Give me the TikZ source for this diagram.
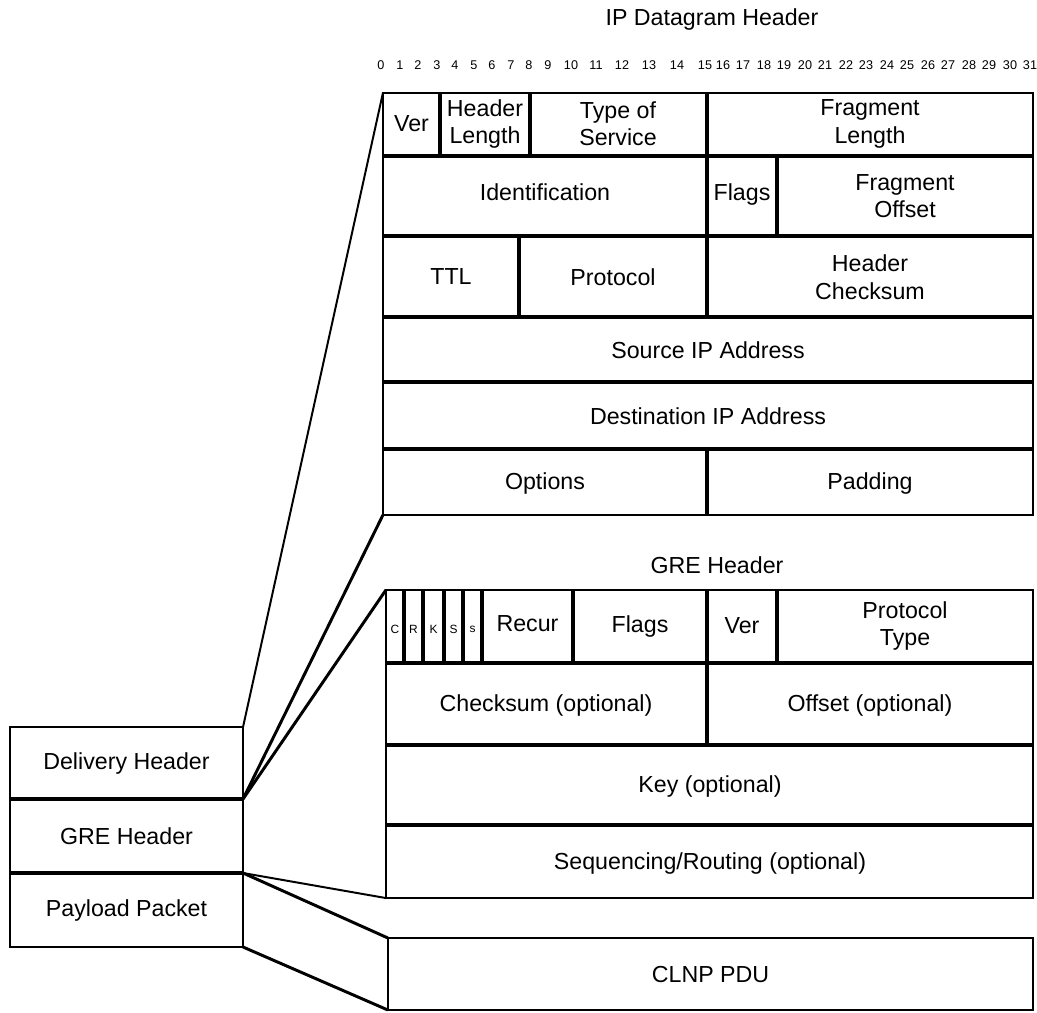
\documentclass[tikz,border=0pt]{standalone}
\usepackage{fontspec}
\setmainfont{Liberation Sans}
\begin{document}
\begin{tikzpicture}[x=0.025cm,y=-0.025cm,
    outline/.style={line width=1.4pt},
    divider/.style={line width=2.8pt},
    link/.style={line width=2.1pt},
    box/.style={draw,outline,outer sep=0pt,inner sep=0pt},
    field/.style={align=center,font=\fontsize{16.5}{19.5}\selectfont},
    bitno/.style={font=\fontsize{9}{10}\selectfont},
    flagbit/.style={font=\fontsize{8.5}{9}\selectfont}]

  \useasboundingbox (0,0) rectangle (1037,1012);

  % Encapsulated packet on the left
  \node[box,field,minimum width=5.825cm,minimum height=1.8cm] (deliv) at (126.5,763) {Delivery Header};
  \node[box,field,minimum width=5.825cm,minimum height=1.85cm] (greh) at (126.5,836) {GRE Header};
  \node[box,field,minimum width=5.825cm,minimum height=1.85cm] (payload) at (126.5,910) {Payload Packet};
  \draw[divider] (deliv.south west) -- (deliv.south east);
  \draw[divider] (greh.south west) -- (greh.south east);

  % The three expanded boxes
  \node[box,minimum width=16.25cm,minimum height=10.55cm] (ip) at (708,304) {};
  \node[box,minimum width=16.175cm,minimum height=7.7cm] (gre) at (709.5,744) {};
  \node[box,field,minimum width=16.125cm,minimum height=1.8cm] (clnp) at (710.5,974) {CLNP PDU};

  % Zoom lines
  \draw[outline] (deliv.north east) -- (ip.north west);
  \draw[link] (deliv.south east) -- (ip.south west);
  \draw[link] (deliv.south east) -- (gre.north west);
  \draw[outline] (greh.south east) -- (gre.south west);
  \draw[link] (greh.south east) -- (clnp.north west);
  \draw[link] (payload.south east) -- (clnp.south west);

  % Titles
  \node[field] (iptitle) at (712,20) {IP Datagram Header};
  \node[field] (gretitle) at (717,565) {GRE Header};

  % Bit numbers above the IP header
  \foreach \n/\x in {0/381,1/400,2/418,3/437,4/455,5/474,6/492,7/511,8/529,
                     9/548,10/571,11/596,12/622,13/649,14/677,15/705,
                     16/723,17/743,18/764,19/784,20/805,21/825,22/846,23/866,
                     24/887,25/907,26/928,27/948,28/969,29/989,30/1010,31/1030}
    \node[bitno] (bit\n) at (\x,65) {\n};

  % IP header grid
  \foreach \y in {156,236,317,382,449}
    \draw[divider] (383,\y) -- (1033,\y);
  \foreach \x in {440,530,707}
    \draw[divider] (\x,93) -- (\x,156);
  \foreach \x in {707,777}
    \draw[divider] (\x,156) -- (\x,236);
  \foreach \x in {519,707}
    \draw[divider] (\x,236) -- (\x,317);
  \draw[divider] (707,449) -- (707,515);

  % IP header fields
  \node[field] (ver) at (411.5,124) {Ver};
  \node[field] (hlen) at (485,124) {Header\\Length};
  \node[field] (tos) at (618,124) {Type of\\Service};
  \node[field] (flen) at (870,124) {Fragment\\Length};
  \node[field] (ident) at (545,192) {Identification};
  \node[field] (ipflags) at (742,194) {Flags};
  \node[field] (foff) at (905,196) {Fragment\\Offset};
  \node[field] (ttl) at (451,277) {TTL};
  \node[field] (proto) at (613,277) {Protocol};
  \node[field] (hcsum) at (870,277) {Header\\Checksum};
  \node[field] (srcip) at (708,350) {Source IP Address};
  \node[field] (dstip) at (708,416) {Destination IP Address};
  \node[field] (opts) at (545,483) {Options};
  \node[field] (pad) at (870,483) {Padding};

  % GRE header grid
  \foreach \y in {663,745,825}
    \draw[divider] (386,\y) -- (1033,\y);
  \foreach \x in {404,423,444,463,482,573,707,777}
    \draw[divider] (\x,590) -- (\x,663);
  \draw[divider] (707,663) -- (707,745);

  % GRE header fields
  \foreach \l/\x in {C/395,R/413.5,K/433.5,S/453.5,s/472.5}
    \node[flagbit] (bit\l) at (\x,629) {\l};
  \node[field] (recur) at (527.5,624) {Recur};
  \node[field] (greflags) at (640,626) {Flags};
  \node[field] (grever) at (742,626) {Ver};
  \node[field] (ptype) at (905,626) {Protocol\\Type};
  \node[field] (csum) at (546,705) {Checksum (optional)};
  \node[field] (offs) at (870,705) {Offset (optional)};
  \node[field] (key) at (710,786) {Key (optional)};
  \node[field] (seqrt) at (710,863) {Sequencing/Routing (optional)};
\end{tikzpicture}
\end{document}
